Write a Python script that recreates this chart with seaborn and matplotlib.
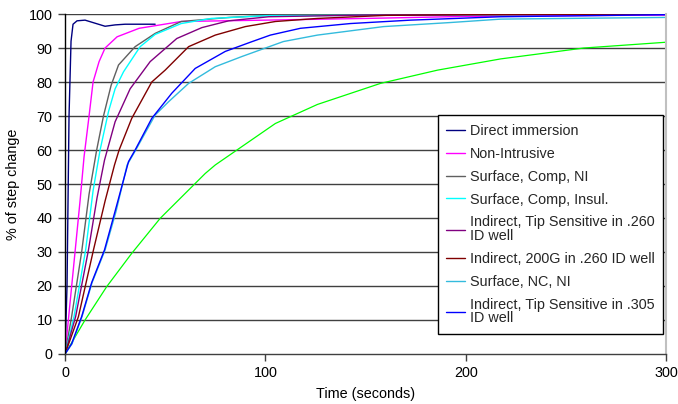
import pandas as pd
import matplotlib
matplotlib.use('Agg')
import matplotlib.pyplot as plt
import seaborn as sns

# Data (time in s, % of step change)
direct_t = [0, 1, 2, 3, 4, 6, 10, 15, 20, 25, 30, 45]
direct_v = [0, 20, 70, 92, 97, 98, 98.2, 97.3, 96.4, 96.8, 97, 97]

nonintr_t = [0, 2, 5, 7.5, 9.5, 12, 14, 17, 20, 26, 37, 58, 100, 150, 200, 300]
nonintr_v = [0, 12, 30, 45, 58, 70, 80, 86, 90, 93.3, 95.8, 97.8, 98.2, 98.7, 99.3, 99.7]

surf_ni_t = [0, 3.3, 8.3, 12, 15.8, 19.2, 23, 26.7, 35, 45, 58, 82, 105, 300]
surf_ni_v = [0, 11, 30, 47, 60, 70, 79, 85, 90.4, 94.3, 97.8, 99, 99.7, 100]

surf_ins_t = [0, 4.5, 10.3, 14, 17.5, 21.7, 25, 29.2, 37.5, 45, 58, 73, 100, 300]
surf_ins_v = [0, 11, 30.6, 48, 60, 71.3, 78, 83, 90.4, 94, 97.2, 98.7, 99.5, 100]

tip260_t = [0, 5.3, 11.7, 16, 19.7, 25, 32.5, 42.5, 55.8, 68.3, 81.7, 101.7, 150, 300]
tip260_v = [0, 11, 30.6, 46, 57, 68.3, 78, 86, 92.8, 96, 98, 99.2, 99.7, 100]

g200_t = [0, 6.7, 14.2, 20, 24.7, 27, 33.3, 43.3, 50, 61.7, 75, 90, 105, 126, 160, 200, 300]
g200_v = [0, 11, 30.6, 45, 55.6, 60, 69.3, 80, 83.5, 90.4, 93.8, 96.3, 97.8, 98.7, 99.6, 99.8, 100]

surf_nc_t = [0, 3.5, 8.5, 13.5, 20, 25.5, 31, 35.3, 45, 51.7, 61.7, 75, 88.3, 109, 126, 159, 192.5, 217.5, 300]
surf_nc_v = [0, 3, 11, 21, 30.6, 42, 55.6, 60, 70.3, 74.2, 79.6, 84.5, 87.5, 91.9, 93.8, 96.3, 97.5, 98.5, 99]

tip305_t = [0, 3.3, 8.3, 13.3, 19.7, 25, 31.7, 35, 43.3, 53.3, 65, 80, 92.5, 102.5, 117.5, 142.5, 172.5, 217.5, 300]
tip305_v = [0, 3, 11, 21, 30.6, 42, 56.6, 60, 69.3, 76.7, 84, 89, 91.7, 93.8, 95.8, 97.2, 98.2, 99.2, 99.8]

green_t = [0, 10, 20.8, 33.3, 47.5, 70, 75, 105, 126, 157.5, 186, 217.5, 259, 300]
green_v = [0, 10, 19.8, 29.6, 39.9, 53.1, 55.6, 67.8, 73.4, 79.6, 83.5, 86.8, 90, 91.7]

series = [
    ('Direct immersion', direct_t, direct_v, '#000080'),
    ('Non-Intrusive', nonintr_t, nonintr_v, '#FF00FF'),
    ('Surface, Comp, NI', surf_ni_t, surf_ni_v, '#606060'),
    ('Surface, Comp, Insul.', surf_ins_t, surf_ins_v, '#00FFFF'),
    ('Indirect, Tip Sensitive in .260\nID well', tip260_t, tip260_v, '#800080'),
    ('Indirect, 200G in .260 ID well', g200_t, g200_v, '#800000'),
    ('Surface, NC, NI', surf_nc_t, surf_nc_v, '#33BBDD'),
    ('Indirect, Tip Sensitive in .305\nID well', tip305_t, tip305_v, '#0000FF'),
]

sns.set_theme(style='white')
plt.rcParams['font.family'] = ['Liberation Sans', 'DejaVu Sans']

fig = plt.figure(figsize=(6.78, 4.04), dpi=100)
ax = fig.add_axes([0.0959, 0.1238, 0.8864, 0.8415])

# green curve has no legend entry in the original
sns.lineplot(x=green_t, y=green_v, color='#00FF00', linewidth=0.9, ax=ax,
             legend=False, sort=False, estimator=None)
for name, t, v, col in series:
    sns.lineplot(x=t, y=v, color=col, linewidth=1.0, label=name, ax=ax,
                 sort=False, estimator=None)

ax.set_xlim(0, 300)
ax.set_ylim(0, 100)
ax.set_xticks([0, 100, 200, 300])
ax.set_yticks(range(0, 101, 10))
for y in range(10, 101, 10):
    ax.axhline(y, color='#404040', linewidth=1.0, zorder=0)

ax.spines['top'].set_visible(False)
ax.spines['right'].set_color('#C0C0C0')
ax.spines['right'].set_linewidth(1.5)
ax.spines['left'].set_color('black')
ax.spines['bottom'].set_color('#404040')
ax.spines['left'].set_linewidth(1.0)
ax.spines['bottom'].set_linewidth(1.0)
ax.tick_params(axis='both', direction='out', length=5, width=1, color='#404040',
               labelsize=10.4, labelcolor='black', pad=4, left=True, bottom=True)
ax.tick_params(axis='x', pad=4)

ax.set_xlabel('Time (seconds)', fontsize=10.4, color='black', labelpad=5)
ax.set_ylabel('% of step change', fontsize=10.4, color='black', labelpad=6)

leg = ax.legend(loc='lower right', bbox_to_anchor=(0.995, 0.059), borderaxespad=0,
                fontsize=10.4, frameon=True, fancybox=False, framealpha=1,
                edgecolor='black', handlelength=1.3, handletextpad=0.3,
                labelspacing=0.62, borderpad=0.6)
leg.get_frame().set_linewidth(1.0)
for txt in leg.get_texts():
    txt.set_linespacing(0.95)

fig.savefig('out.png', dpi=100)
